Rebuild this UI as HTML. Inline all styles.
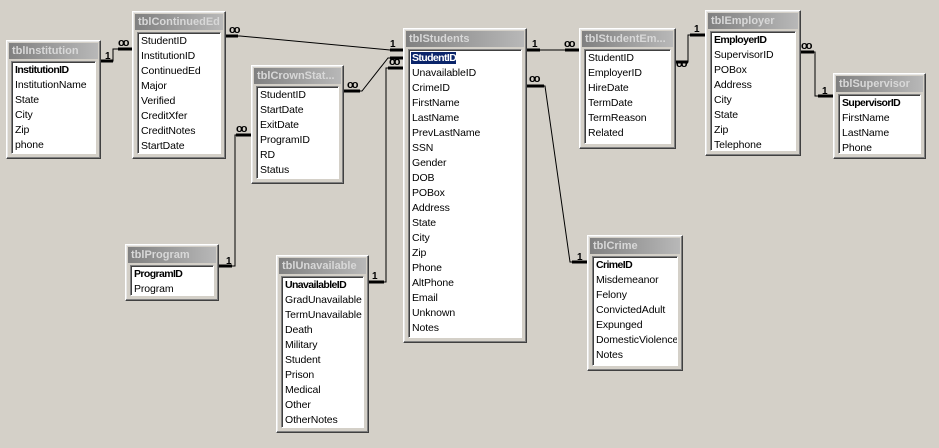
<!DOCTYPE html>
<html><head><style>
body{margin:0;width:939px;height:448px;background:#d4d0c8;position:relative;overflow:hidden;font-family:"Liberation Sans",Tahoma,sans-serif}
.t{position:absolute;background:#d4d0c8;border:1px solid;border-color:#fff #404040 #404040 #fff;box-shadow:inset -1px -1px #808080,inset 1px 1px #e8e8e8;box-sizing:border-box}
.h{height:16px;margin:2px 2px 0 2px;background:linear-gradient(90deg,#808080,#b8b8b8);color:#d8d8d8;font-weight:bold;font-size:11px;line-height:16px;padding-left:3px;white-space:nowrap;overflow:hidden}
.l{position:absolute;left:4px;right:4px;top:20px;bottom:4px;background:#fff;border:1px solid;border-color:#808080 #fff #fff #808080;box-shadow:inset 1px 1px #404040;font-size:10.5px;letter-spacing:-0.1px;padding:1px 0 0 3px;box-sizing:border-box;overflow:hidden}
.l div{height:15px;line-height:15px;white-space:nowrap}
.k{font-weight:bold;letter-spacing:-0.6px}
.s{background:#0a246a;color:#fff;outline:1px dotted #fff;margin-left:-1px;padding-left:1px}
svg{position:absolute;left:0;top:0}
svg text{font-family:"Liberation Sans",sans-serif;font-weight:bold;font-size:10px}
svg text.i{letter-spacing:-2px;font-size:11px}
</style></head><body>
<svg width="939" height="448">
<g stroke="#000" stroke-width="1" fill="none">
<path d="M100 61H113V49H132"/>
<path d="M225 36H240L390 50H403"/>
<path d="M343 91H362L388 58H403"/>
<path d="M218 266H235V135H251"/>
<path d="M368 282H386V68H403"/>
<path d="M526 50H579"/>
<path d="M526 86H545L570 262H587"/>
<path d="M675 62H688V35H705"/>
<path d="M800 52H815V96H833"/>
</g>
<g stroke="#000" stroke-width="3" fill="none">
<path d="M100 61H113"/><path d="M118 49H132"/>
<path d="M225 36H238"/><path d="M390 50H403"/>
<path d="M343 91H360"/><path d="M390 58H403"/>
<path d="M218 266H232"/><path d="M236 135H251"/>
<path d="M368 282H384"/><path d="M388 68H403"/>
<path d="M526 50H540"/><path d="M565 50H579"/>
<path d="M526 86H544"/><path d="M572 262H587"/>
<path d="M675 62H688"/><path d="M690 35H705"/>
<path d="M800 52H814"/><path d="M818 96H833"/>
</g>
<g>
<text x="105" y="59">1</text><text class="i" x="118" y="46">oo</text>
<text class="i" x="229" y="33">oo</text><text x="390" y="47">1</text>
<text class="i" x="347" y="88">oo</text><text class="i" x="389" y="65">oo</text>
<text x="226" y="264">1</text><text class="i" x="236" y="132">oo</text>
<text x="372" y="279">1</text>
<text x="532" y="47">1</text><text class="i" x="564" y="47">oo</text>
<text class="i" x="529" y="82">oo</text><text x="577" y="260">1</text>
<text class="i" x="676" y="67">oo</text><text x="694" y="32">1</text>
<text class="i" x="801" y="49">oo</text><text x="822" y="94">1</text>
</g>
</svg>

<div class="t" style="left:6px;top:40px;width:95px;height:119px"><div class="h">tblInstitution</div><div class="l"><div class="k">InstitutionID</div><div>InstitutionName</div><div>State</div><div>City</div><div>Zip</div><div>phone</div></div></div>

<div class="t" style="left:132px;top:11px;width:94px;height:148px"><div class="h">tblContinuedEd</div><div class="l"><div>StudentID</div><div>InstitutionID</div><div>ContinuedEd</div><div>Major</div><div>Verified</div><div>CreditXfer</div><div>CreditNotes</div><div>StartDate</div></div></div>

<div class="t" style="left:251px;top:65px;width:93px;height:119px"><div class="h">tblCrownStat...</div><div class="l"><div>StudentID</div><div>StartDate</div><div>ExitDate</div><div>ProgramID</div><div>RD</div><div>Status</div></div></div>

<div class="t" style="left:403px;top:28px;width:124px;height:315px"><div class="h">tblStudents</div><div class="l"><div class="k"><span class="s">StudentID</span></div><div>UnavailableID</div><div>CrimeID</div><div>FirstName</div><div>LastName</div><div>PrevLastName</div><div>SSN</div><div>Gender</div><div>DOB</div><div>POBox</div><div>Address</div><div>State</div><div>City</div><div>Zip</div><div>Phone</div><div>AltPhone</div><div>Email</div><div>Unknown</div><div>Notes</div></div></div>

<div class="t" style="left:579px;top:28px;width:97px;height:121px"><div class="h">tblStudentEm...</div><div class="l"><div>StudentID</div><div>EmployerID</div><div>HireDate</div><div>TermDate</div><div>TermReason</div><div>Related</div></div></div>

<div class="t" style="left:705px;top:10px;width:96px;height:146px"><div class="h">tblEmployer</div><div class="l"><div class="k">EmployerID</div><div>SupervisorID</div><div>POBox</div><div>Address</div><div>City</div><div>State</div><div>Zip</div><div>Telephone</div></div></div>

<div class="t" style="left:833px;top:73px;width:93px;height:86px"><div class="h">tblSupervisor</div><div class="l"><div class="k">SupervisorID</div><div>FirstName</div><div>LastName</div><div>Phone</div></div></div>

<div class="t" style="left:125px;top:244px;width:94px;height:57px"><div class="h">tblProgram</div><div class="l"><div class="k">ProgramID</div><div>Program</div></div></div>

<div class="t" style="left:276px;top:255px;width:93px;height:178px"><div class="h">tblUnavailable</div><div class="l"><div class="k">UnavailableID</div><div>GradUnavailable</div><div>TermUnavailable</div><div>Death</div><div>Military</div><div>Student</div><div>Prison</div><div>Medical</div><div>Other</div><div>OtherNotes</div></div></div>

<div class="t" style="left:587px;top:235px;width:96px;height:136px"><div class="h">tblCrime</div><div class="l"><div class="k">CrimeID</div><div>Misdemeanor</div><div>Felony</div><div>ConvictedAdult</div><div>Expunged</div><div>DomesticViolence</div><div>Notes</div></div></div>
</body></html>
